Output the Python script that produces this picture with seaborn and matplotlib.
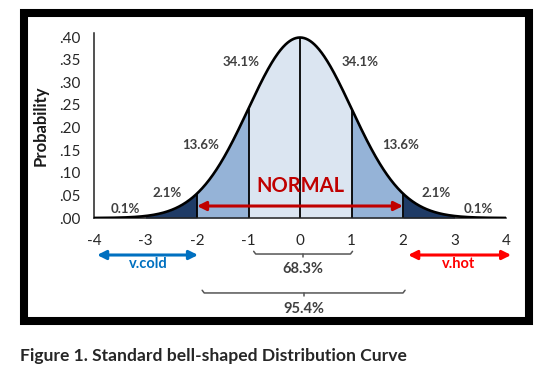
import numpy as np
import pandas as pd
import matplotlib
matplotlib.use("Agg")
import matplotlib.pyplot as plt
from matplotlib.patches import Rectangle
import seaborn as sns

# ---- data ----
z_ticks = [-4, -3, -2, -1, 0, 1, 2, 3, 4]
y_ticks = [0.00, 0.05, 0.10, 0.15, 0.20, 0.25, 0.30, 0.35, 0.40]
y_tick_labels = [".00", ".05", ".10", ".15", ".20", ".25", ".30", ".35", ".40"]
band_edges = [(-1, 1), (-2, -1), (1, 2), (-3, -2), (2, 3)]
band_colors = ["#dbe5f1", "#95b3d7", "#95b3d7", "#1f3b66", "#1f3b66"]
divider_z = [-2, -1, 0, 1, 2]
pct_labels = ["34.1%", "34.1%", "13.6%", "13.6%", "2.1%", "2.1%", "0.1%", "0.1%"]
pct_x = [-1.14, 1.16, -1.92, 1.96, -2.58, 2.64, -3.40, 3.46]
pct_y = [0.345, 0.345, 0.161, 0.161, 0.055, 0.055, 0.020, 0.020]

# standard normal density (the chart's defined curve)
z = np.linspace(-4, 4, 801)
pdf = np.exp(-z ** 2 / 2) / np.sqrt(2 * np.pi)
curve = pd.DataFrame({"z": z, "p": pdf})

def npdf(v):
    return np.exp(-np.asarray(v) ** 2 / 2) / np.sqrt(2 * np.pi)

# ---- figure ----
sns.set_style("white")
plt.rcParams["font.family"] = ["Lato", "DejaVu Sans"]
fig = plt.figure(figsize=(5.5, 3.72), dpi=100)
ax = fig.add_axes([94 / 550, 154 / 372, 412 / 550, 0.4962])

for (a, b), c in zip(band_edges, band_colors):
    m = (z >= a) & (z <= b)
    ax.fill_between(z[m], 0, pdf[m], color=c, lw=0, zorder=1)

ax.vlines(divider_z, 0, npdf(divider_z), color="black", lw=1.3, zorder=2)
sns.lineplot(data=curve, x="z", y="p", color="black", lw=1.9, ax=ax, zorder=3)

ax.set_xlim(-4, 4)
ax.set_ylim(0, 0.408)
ax.set_xticks(z_ticks)
ax.set_xticklabels([str(t) for t in z_ticks])
ax.set_yticks(y_ticks)
ax.set_yticklabels(y_tick_labels)
ax.set_xlabel("")
ax.set_ylabel("Probability", fontsize=12, fontweight="bold", color="#1a1a1a", labelpad=8)
for s in ["top", "right"]:
    ax.spines[s].set_visible(False)
for s in ["left", "bottom"]:
    ax.spines[s].set_linewidth(1.1)
    ax.spines[s].set_color("#222222")
ax.tick_params(axis="both", direction="out", length=3.5, width=1.0, color="#222222",
               labelsize=11, labelcolor="#262626")
ax.tick_params(axis="x", pad=8)
ax.tick_params(axis="y", pad=6)
ax.set_facecolor("white")

for t, x, y in zip(pct_labels, pct_x, pct_y):
    ax.text(x, y, t, ha="center", va="center", fontsize=9.5, color="#404040",
            fontweight="bold")

# NORMAL label and arrow
ax.text(0, 0.0707, "NORMAL", ha="center", va="center", fontsize=14.5,
        fontweight="bold", color="#c00000")
ax.annotate("", xy=(2, 0.0265), xytext=(-2, 0.0265),
            arrowprops=dict(arrowstyle="<|-|>", color="#c00000", lw=2.2,
                            mutation_scale=13, shrinkA=0, shrinkB=0), zorder=5)

# v.cold / v.hot
ax.annotate("", xy=(-1.98, -0.0818), xytext=(-3.94, -0.0818), annotation_clip=False,
            arrowprops=dict(arrowstyle="<|-|>", color="#0070c0", lw=2.2,
                            mutation_scale=13, shrinkA=0, shrinkB=0))
ax.text(-2.95, -0.1017, "v.cold", ha="center", va="center", fontsize=10.5,
        fontweight="bold", color="#0070c0")
ax.annotate("", xy=(4.10, -0.0818), xytext=(2.10, -0.0818), annotation_clip=False,
            arrowprops=dict(arrowstyle="<|-|>", color="#ff0000", lw=2.2,
                            mutation_scale=13, shrinkA=0, shrinkB=0))
ax.text(3.07, -0.1017, "v.hot", ha="center", va="center", fontsize=10.5,
        fontweight="bold", color="#ff0000")

# brackets
def bracket(x0, x1, y, label, ly):
    h = 0.006
    ax.plot([x0, x0 + 0.04, x1 - 0.04, x1], [y + h, y, y, y + h], color="#555555",
            lw=1.1, clip_on=False, solid_capstyle="round")
    xm = (x0 + x1) / 2
    ax.plot([xm, xm], [y, y - h], color="#555555", lw=1.1, clip_on=False)
    ax.text(xm, ly, label, ha="center", va="center", fontsize=10.5,
            fontweight="bold", color="#404040")

bracket(-0.9, 1.02, -0.0796, "68.3%", -0.1127)
bracket(-1.9, 2.04, -0.1657, "95.4%", -0.201)

# frame
fig.patches.append(Rectangle((24 / 550, 51 / 372), 505 / 550, 308 / 372,
                             transform=fig.transFigure, fill=False,
                             edgecolor="black", lw=5.8, zorder=10))

fig.text(20 / 550, 1 - 356 / 372, "Figure 1. Standard bell-shaped Distribution Curve",
         ha="left", va="center", fontsize=12.6, fontweight="bold", color="#262626")

fig.savefig("out.png", dpi=100, facecolor="white")
